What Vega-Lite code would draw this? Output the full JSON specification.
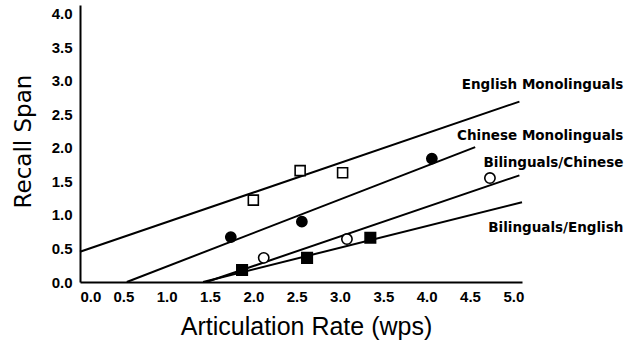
{
  "$schema": "https://vega.github.io/schema/vega-lite/v6.json",
  "width": 442,
  "height": 277,
  "autosize": {"type": "none"},
  "padding": {"left": 80, "top": 5, "right": 116, "bottom": 63},
  "background": "white",
  "config": {
    "view": {"stroke": null},
    "font": "Liberation Sans",
    "axis": {"domainColor": "black", "domainWidth": 2, "ticks": false, "grid": false, "labelOverlap": false,
             "labelFont": "Liberation Sans", "labelFontWeight": "bold", "labelFontSize": 15, "labelColor": "black",
             "titleFont": "Liberation Sans", "titleFontWeight": "normal", "titleFontSize": 25, "titleColor": "black"}
  },
  "datasets": {
    "lines": [
      {"group": "English Monolinguals", "x": 0, "y": 0.45},
      {"group": "English Monolinguals", "x": 5.07, "y": 2.69},
      {"group": "Chinese Monolinguals", "x": 0.54, "y": 0},
      {"group": "Chinese Monolinguals", "x": 4.56, "y": 2.01},
      {"group": "Bilinguals/Chinese", "x": 1.46, "y": 0},
      {"group": "Bilinguals/Chinese", "x": 5.07, "y": 1.59},
      {"group": "Bilinguals/English", "x": 1.42, "y": 0},
      {"group": "Bilinguals/English", "x": 5.1, "y": 1.19}
    ],
    "points": [
      {"group": "English Monolinguals", "x": 2.0, "y": 1.22},
      {"group": "English Monolinguals", "x": 2.54, "y": 1.66},
      {"group": "English Monolinguals", "x": 3.03, "y": 1.63},
      {"group": "Chinese Monolinguals", "x": 1.74, "y": 0.67},
      {"group": "Chinese Monolinguals", "x": 2.56, "y": 0.9},
      {"group": "Chinese Monolinguals", "x": 4.06, "y": 1.84},
      {"group": "Bilinguals/Chinese", "x": 2.12, "y": 0.36},
      {"group": "Bilinguals/Chinese", "x": 3.08, "y": 0.64},
      {"group": "Bilinguals/Chinese", "x": 4.73, "y": 1.55},
      {"group": "Bilinguals/English", "x": 1.87, "y": 0.18},
      {"group": "Bilinguals/English", "x": 2.62, "y": 0.36},
      {"group": "Bilinguals/English", "x": 3.35, "y": 0.66}
    ],
    "labels": [
      {"label": "English Monolinguals", "x": 6.27, "y": 2.94},
      {"label": "Chinese Monolinguals", "x": 6.27, "y": 2.18},
      {"label": "Bilinguals/Chinese", "x": 6.27, "y": 1.78},
      {"label": "Bilinguals/English", "x": 6.27, "y": 0.8}
    ]
  },
  "layer": [
    {
      "data": {"name": "lines"},
      "mark": {"type": "line", "color": "black", "strokeWidth": 2, "clip": false},
      "encoding": {
        "x": {"field": "x", "type": "quantitative", "scale": {"domain": [0, 5.1], "nice": false},
              "axis": {"values": [0, 0.5, 1, 1.5, 2, 2.5, 3, 3.5, 4, 4.5, 5], "tickCount": 20, "format": ".1f", "labelPadding": 7, "labelOverlap": false,
                       "title": "Articulation Rate (wps)", "titleX": 226, "titleY": 52, "titleBaseline": "alphabetic"}},
        "y": {"field": "y", "type": "quantitative", "scale": {"domain": [0, 4.13], "nice": false},
              "axis": {"values": [0, 0.5, 1, 1.5, 2, 2.5, 3, 3.5, 4], "tickCount": 20, "format": ".1f", "labelPadding": 8, "labelOverlap": false,
                       "title": "Recall Span", "titleFont": "DejaVu Sans", "titleFontSize": 23, "titleX": -57, "titleY": 136, "titleBaseline": "middle", "titleAngle": -90}},
        "detail": {"field": "group"}
      }
    },
    {
      "data": {"name": "points"},
      "mark": {"type": "point", "strokeWidth": 1.6, "opacity": 1, "stroke": "black"},
      "encoding": {
        "x": {"field": "x", "type": "quantitative"},
        "y": {"field": "y", "type": "quantitative"},
        "shape": {"field": "group", "type": "nominal", "legend": null,
                  "scale": {"domain": ["English Monolinguals", "Chinese Monolinguals", "Bilinguals/Chinese", "Bilinguals/English"],
                            "range": ["square", "circle", "circle", "square"]}},
        "fill": {"field": "group", "type": "nominal", "legend": null,
                 "scale": {"domain": ["English Monolinguals", "Chinese Monolinguals", "Bilinguals/Chinese", "Bilinguals/English"],
                           "range": ["white", "black", "white", "black"]}},
        "size": {"field": "group", "type": "nominal", "legend": null,
                 "scale": {"domain": ["English Monolinguals", "Chinese Monolinguals", "Bilinguals/Chinese", "Bilinguals/English"],
                           "range": [100, 110, 110, 70]}}
      }
    },
    {
      "data": {"name": "labels"},
      "mark": {"type": "text", "align": "right", "baseline": "middle", "fontWeight": "bold", "fontSize": 13.5, "color": "black", "font": "DejaVu Sans"},
      "encoding": {
        "x": {"field": "x", "type": "quantitative"},
        "y": {"field": "y", "type": "quantitative"},
        "text": {"field": "label"}
      }
    }
  ]
}
